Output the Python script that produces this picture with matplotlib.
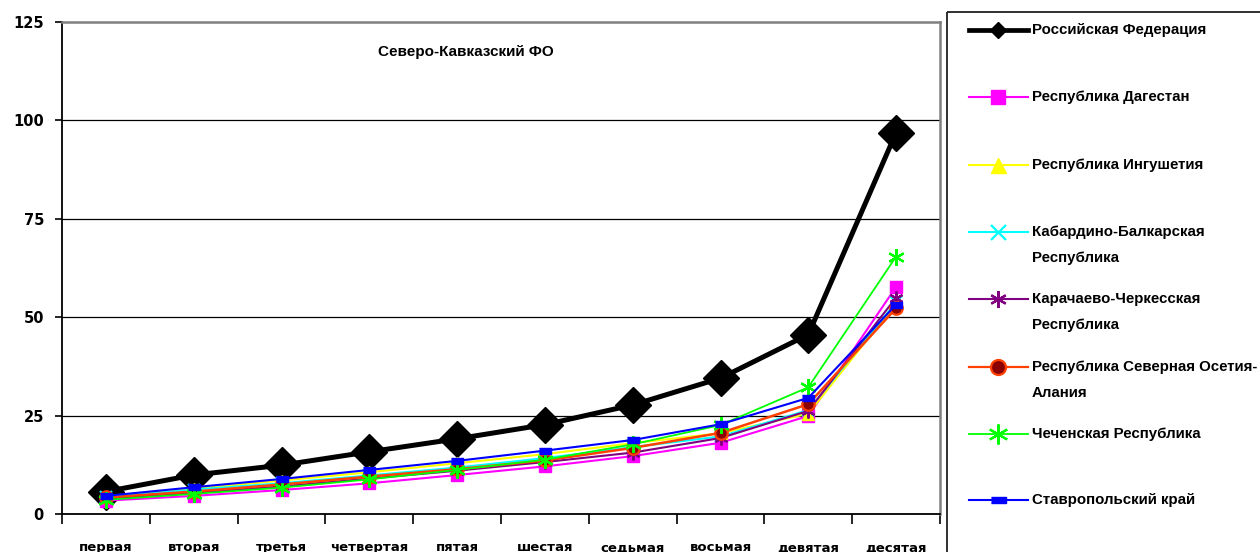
import numpy as np
import matplotlib
matplotlib.use('Agg')
import matplotlib.pyplot as plt
from matplotlib.patches import Rectangle

deciles = ['первая', 'вторая', 'третья', 'четвертая', 'пятая',
           'шестая', 'седьмая', 'восьмая', 'девятая', 'десятая']

rf = [5.7, 9.9, 12.4, 15.8, 19.1, 22.7, 27.7, 34.5, 45.6, 96.9]
dagestan = [3.4, 4.6, 6.1, 7.8, 9.9, 12.1, 14.7, 18.1, 24.9, 57.7]
ingush = [4.4, 6.4, 8.5, 10.6, 12.9, 15.2, 18.0, 20.5, 25.5, 53.5]
kbr = [4.2, 6.2, 7.8, 9.8, 11.8, 14.2, 17.0, 19.7, 26.4, 53.8]
kchr = [3.8, 5.4, 7.0, 9.0, 11.0, 13.2, 15.6, 19.3, 26.2, 55.0]
osetia = [4.2, 5.7, 7.5, 9.5, 11.4, 13.6, 16.8, 20.6, 27.9, 52.3]
chechnya = [3.6, 5.1, 6.7, 8.8, 11.2, 13.8, 17.7, 22.6, 32.2, 65.4]
stavropol = [4.6, 6.8, 8.9, 11.2, 13.5, 16.1, 18.8, 22.8, 29.5, 53.2]

labels = ['Российская Федерация', 'Республика Дагестан', 'Республика Ингушетия',
          'Кабардино-Балкарская\nРеспублика', 'Карачаево-Черкесская\nРеспублика',
          'Республика Северная Осетия-\nАлания', 'Чеченская Республика',
          'Ставропольский край']

dash = [(-1, -0.45), (1, -0.45), (1, 0.45), (-1, 0.45)]
styles = [
    dict(color='black', lw=3.6, marker='D', ms=18, mfc='black', mec='black'),
    dict(color='#FF00FF', lw=1.5, marker='s', ms=8, mfc='#FF00FF', mec='#FF00FF'),
    dict(color='#FFFF00', lw=1.5, marker='^', ms=9, mfc='#FFFF00', mec='#FFFF00'),
    dict(color='#00FFFF', lw=1.5, marker='x', ms=9, mew=1.6, mec='#00FFFF'),
    dict(color='#800080', lw=1.5, marker=(6, 2, 0), ms=10, mew=1.6, mec='#800080'),
    dict(color='#FF4000', lw=1.8, marker='o', ms=9, mfc='#8B0000', mec='#FF4000', mew=1.6),
    dict(color='#00FF00', lw=1.3, marker=(6, 2, 0), ms=12, mew=1.6, mec='#00FF00'),
    dict(color='#0000FF', lw=1.5, marker=dash, ms=9, mfc='#0000FF', mec='#0000FF'),
]
series = [rf, dagestan, ingush, kbr, kchr, osetia, chechnya, stavropol]

W, H = 1260, 552
fig = plt.figure(figsize=(W / 100, H / 100), dpi=100)
ax = fig.add_axes([62 / W, (H - 514) / H, (940 - 62) / W, (514 - 22) / H])

x = np.arange(len(deciles))
for vals, st in zip(series, styles):
    ax.plot(x, vals, clip_on=False, **st)

ax.set_xlim(-0.5, 9.5)
ax.set_ylim(0, 125)
ax.set_yticks([0, 25, 50, 75, 100, 125])
ax.set_yticklabels(['0', '25', '50', '75', '100', '125'],
                   fontsize=10.5, fontweight='bold', family='DejaVu Sans')
ax.set_xticks(x)
ax.set_xticklabels(deciles, fontsize=9.5, fontweight='bold', family='DejaVu Sans')
ax.set_xticks(np.arange(-0.5, 10, 1), minor=True)
ax.tick_params(axis='x', which='major', length=0, pad=19.5)
ax.tick_params(axis='x', which='minor', length=7, width=1.2, color='black')
ax.tick_params(axis='y', length=5, width=1.2, pad=8)
for yv in [25, 50, 75, 100]:
    ax.axhline(yv, color='black', lw=0.9, zorder=0)
ax.spines['left'].set_color('black')
ax.spines['left'].set_linewidth(1.3)
ax.spines['bottom'].set_color('black')
ax.spines['bottom'].set_linewidth(1.3)
ax.spines['top'].set_color('#808080')
ax.spines['top'].set_linewidth(1.8)
ax.spines['right'].set_color('#808080')
ax.spines['right'].set_linewidth(1.8)

ax.text(0.46, 0.94, 'Северо-Кавказский ФО', transform=ax.transAxes,
        ha='center', va='center', fontsize=11, fontweight='bold',
        family='Liberation Sans')

# legend panel drawn in pixel coordinates
lg = fig.add_axes([0, 0, 1, 1], facecolor='none')
lg.set_xlim(0, W)
lg.set_ylim(H, 0)
lg.axis('off')
lg.add_patch(Rectangle((947, 12), 400, 600, fill=False, ec='#202020', lw=1.3))
ys = [30, 97, 165, 232, 299, 367, 434, 500]
for yy, lab, st in zip(ys, labels, styles):
    s = dict(st)
    s['lw'] = min(s['lw'], 1.6) if s['color'] != 'black' else 3.4
    s['ms'] = s['ms'] * (0.47 if s['marker'] == 'D' else 1.2)
    lg.plot([969, 1028], [yy, yy], color=s['color'], lw=s['lw'])
    lg.plot([998], [yy], ls='none', **{k: v for k, v in s.items() if k not in ('color', 'lw')})
    lines = lab.split('\n')
    for i, t in enumerate(lines):
        lg.text(1032, yy + i * 26, t, ha='left', va='center', fontsize=10.8,
                fontweight='bold', family='Liberation Sans')

fig.savefig('out.png', dpi=100)
